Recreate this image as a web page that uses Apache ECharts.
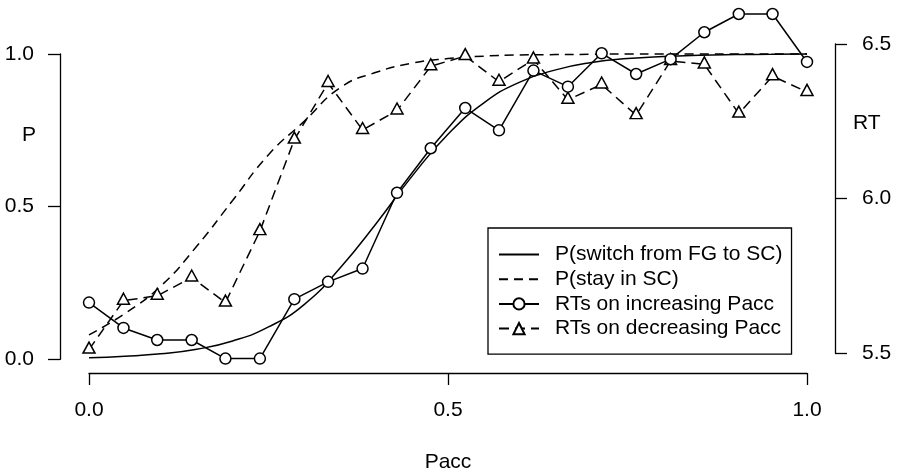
<!DOCTYPE html>
<html>
<head>
<meta charset="utf-8">
<script src="https://cdn.jsdelivr.net/npm/echarts@6/dist/echarts.min.js"></script>
<style>
  html, body { margin: 0; padding: 0; background: #fff; }
  #chart { width: 897px; height: 473px; }
</style>
</head>
<body>
<div id="chart"></div>
<script>
// Fitted probability curves, sampled along Pacc
const curveX = [0, 0.05, 0.1, 0.15, 0.2, 0.25, 0.3, 0.35, 0.4, 0.45, 0.5,
                0.55, 0.6, 0.65, 0.7, 0.75, 0.8, 0.85, 0.9, 0.95, 1.0];
const pSwitch = [0.005, 0.01, 0.018, 0.033, 0.06, 0.106, 0.18, 0.30, 0.445, 0.60, 0.737,
                 0.84, 0.908, 0.948, 0.972, 0.985, 0.992, 0.996, 0.998, 0.999, 1.0];
const pStay = [0.08, 0.15, 0.24, 0.37, 0.52, 0.67, 0.78, 0.89, 0.94, 0.97, 0.985,
               0.993, 0.997, 0.998, 0.999, 1.0, 1.0, 1.0, 1.0, 1.0, 1.0];

// Mean reaction times (log scale) per Pacc level
const paccLevels = [0, 0.048, 0.095, 0.143, 0.19, 0.238, 0.286, 0.333, 0.381, 0.429, 0.476,
                    0.524, 0.571, 0.619, 0.667, 0.714, 0.762, 0.81, 0.857, 0.905, 0.952, 1];
const rtIncreasing = [5.664, 5.582, 5.543, 5.543, 5.483, 5.483, 5.675, 5.731, 5.774, 6.019, 6.163,
                      6.293, 6.221, 6.414, 6.362, 6.470, 6.403, 6.451, 6.538, 6.597, 6.597, 6.442];
const rtDecreasing = [5.512, 5.670, 5.686, 5.745, 5.664, 5.895, 6.191, 6.374, 6.222, 6.285, 6.428,
                      6.461, 6.378, 6.450, 6.320, 6.369, 6.270, 6.445, 6.434, 6.275, 6.396, 6.345];

// Axis tick values
const xTicks = [0, 0.5, 1];
const pTicks = [0, 0.5, 1];
const rtTicks = [5.5, 6.0, 6.5];

const FONT = '"Liberation Sans", Arial, sans-serif';
const INK = '#000';

const zip = (xs, ys) => xs.map((x, i) => [x, ys[i]]);

const axisCommon = {
  axisLine: { show: true, onZero: false, lineStyle: { color: INK, width: 1.3 } },
  axisTick: { show: true, length: 12, inside: false, lineStyle: { color: INK, width: 1.3 } },
  splitLine: { show: false },
  axisLabel: { color: INK, fontSize: 21, fontFamily: FONT, formatter: v => v.toFixed(1) }
};

const chart = echarts.init(document.getElementById('chart'), null, { renderer: 'canvas' });

chart.setOption({
  animation: false,
  backgroundColor: '#fff',
  grid: [
    { left: 89, right: 90, top: 54, bottom: 113.7, outerBoundsMode: 'none', containLabel: false },
    { left: 89, right: 90, top: 44, bottom: 119.7, outerBoundsMode: 'none', containLabel: false }
  ],
  xAxis: [
    Object.assign({}, axisCommon, {
      type: 'value', gridIndex: 0, min: xTicks[0], max: xTicks[2], interval: xTicks[1] - xTicks[0],
      position: 'bottom', offset: 13.7,
      axisLabel: Object.assign({}, axisCommon.axisLabel, { margin: 27 }),
      name: 'Pacc', nameLocation: 'middle', nameGap: 79,
      nameTextStyle: { color: INK, fontSize: 21, fontFamily: FONT }
    }),
    { type: 'value', gridIndex: 1, min: 0, max: 1, show: false }
  ],
  yAxis: [
    Object.assign({}, axisCommon, {
      type: 'value', gridIndex: 0, position: 'left', offset: 29,
      min: pTicks[0], max: pTicks[2], interval: pTicks[1] - pTicks[0],
      axisLabel: Object.assign({}, axisCommon.axisLabel, { margin: 26 })
    }),
    Object.assign({}, axisCommon, {
      type: 'value', gridIndex: 1, position: 'right', offset: 28,
      min: rtTicks[0], max: rtTicks[2], interval: rtTicks[1] - rtTicks[0],
      axisLabel: Object.assign({}, axisCommon.axisLabel, { margin: 27 })
    })
  ],
  graphic: [
    { type: 'text', left: 22, top: 125, style: { text: 'P', fontSize: 21, fontFamily: FONT, fill: INK } },
    { type: 'text', left: 853, top: 113, style: { text: 'RT', fontSize: 21, fontFamily: FONT, fill: INK } }
  ],
  legend: {
    orient: 'vertical',
    left: 488, top: 228,
    padding: [16, 9, 15, 10],
    itemWidth: 40, itemHeight: 14, itemGap: 3.7,
    borderColor: INK, borderWidth: 1.3, borderRadius: 0,
    backgroundColor: '#fff',
    textStyle: { color: INK, fontSize: 21, fontFamily: FONT, lineHeight: 21, padding: [0, 0, 0, 11] },
    data: [
      { name: 'P(switch from FG to SC)', itemStyle: { opacity: 0 } },
      { name: 'P(stay in SC)', itemStyle: { opacity: 0 } },
      { name: 'RTs on increasing Pacc' },
      { name: 'RTs on decreasing Pacc' }
    ]
  },
  series: [
    {
      name: 'P(switch from FG to SC)', type: 'line', xAxisIndex: 0, yAxisIndex: 0,
      data: zip(curveX, pSwitch), smooth: 0.5, symbol: 'none', clip: false,
      lineStyle: { color: INK, width: 1.5, type: 'solid' }, itemStyle: { color: INK }
    },
    {
      name: 'P(stay in SC)', type: 'line', xAxisIndex: 0, yAxisIndex: 0,
      data: zip(curveX, pStay), smooth: 0.5, symbol: 'none', clip: false,
      lineStyle: { color: INK, width: 1.5, type: [9, 6] }, itemStyle: { color: INK }
    },
    {
      name: 'RTs on decreasing Pacc', type: 'line', xAxisIndex: 1, yAxisIndex: 1,
      data: zip(paccLevels, rtDecreasing), clip: false,
      symbol: 'triangle', symbolSize: [12, 11], symbolOffset: [0, -2], showSymbol: true,
      lineStyle: { color: INK, width: 1.5, type: [10, 6] },
      itemStyle: { color: '#fff', borderColor: INK, borderWidth: 1.5 }
    },
    {
      name: 'RTs on increasing Pacc', type: 'line', xAxisIndex: 1, yAxisIndex: 1,
      data: zip(paccLevels, rtIncreasing), clip: false,
      symbol: 'circle', symbolSize: 11, showSymbol: true,
      lineStyle: { color: INK, width: 1.5, type: 'solid' },
      itemStyle: { color: '#fff', borderColor: INK, borderWidth: 1.5 }
    }
  ]
});
</script>
</body>
</html>
